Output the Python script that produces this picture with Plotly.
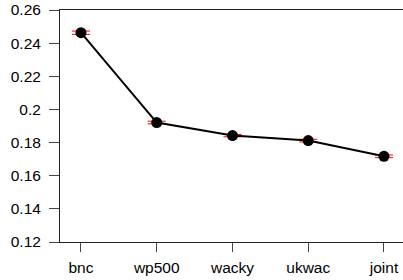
import plotly.graph_objects as go

categories = ["bnc", "wp500", "wacky", "ukwac", "joint"]
values = [0.2463, 0.1921, 0.1842, 0.1812, 0.1717]
errors = [0.001, 0.0008, 0.0007, 0.0008, 0.0008]
ytick_vals = [0.12, 0.14, 0.16, 0.18, 0.20, 0.22, 0.24, 0.26]
ytick_text = ["0.12", "0.14", "0.16", "0.18", "0.2", "0.22", "0.24", "0.26"]

x_idx = list(range(len(categories)))

fig = go.Figure()
fig.add_trace(go.Scatter(
    x=x_idx, y=values, mode="lines+markers",
    line=dict(color="black", width=2),
    marker=dict(color="black", size=11),
    error_y=dict(type="data", array=errors, color="red", thickness=1, width=9, visible=True),
    showlegend=False,
))

font = dict(family="Liberation Sans, Arial, sans-serif", size=15.5, color="black")
fig.update_layout(
    width=403, height=280,
    margin=dict(l=60, r=0, t=10, b=38),
    plot_bgcolor="white", paper_bgcolor="white",
    font=font,
    xaxis=dict(
        range=[-0.277, 4.251], tickmode="array", tickvals=x_idx, ticktext=categories,
        showgrid=False, zeroline=False, showline=True, linecolor="#222", linewidth=1,
        mirror=True, ticks="outside", ticklen=9, tickcolor="#444", tickwidth=1,
        ticklabelstandoff=2,
    ),
    yaxis=dict(
        range=[0.12, 0.26], tickmode="array", tickvals=ytick_vals, ticktext=ytick_text,
        showgrid=False, zeroline=False, showline=True, linecolor="#222", linewidth=1,
        mirror=False, ticks="outside", ticklen=10, tickcolor="#444", tickwidth=1,
        ticklabelstandoff=5,
    ),
)

fig.write_html(
    "out.html",
    config={"displayModeBar": False},
    post_script="document.body.style.margin='0';document.body.style.padding='0';",
)
